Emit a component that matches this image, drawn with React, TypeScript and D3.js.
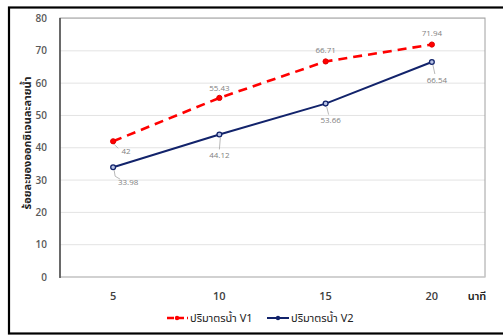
import React from "react";
import * as d3 from "d3";

const categories = ["5", "10", "15", "20"];
const seriesNames = ["ปริมาตรน้ำ V1", "ปริมาตรน้ำ V2"];
const v1 = [42, 55.43, 66.71, 71.94];
const v2 = [33.98, 44.12, 53.66, 66.54];
const yTicks = [0, 10, 20, 30, 40, 50, 60, 70, 80];
const labelsV1 = ["42", "55.43", "66.71", "71.94"];
const labelsV2 = ["33.98", "44.12", "53.66", "66.54"];

// label offsets (layout)
const offV1: [number, number][] = [[13, 10], [0, -10], [0, -11], [0, -11]];
const offV2: [number, number][] = [[15, 15], [0, 21], [5, 17], [5, 18]];
const leaderV1 = [true, false, false, false];
const leaderV2 = [true, true, true, true];

const W = 503, H = 335;
const L = 60, R = 485, T = 18, B = 277;

export default function App() {
  const x = d3.scaleBand<string>().domain(categories).range([L, R]);
  const y = d3.scaleLinear().domain([0, 80]).range([B, T + 0.5]);
  const cx = (c: string) => (x(c) as number) + x.bandwidth() / 2;
  const line = d3
    .line<number>()
    .x((_, i) => cx(categories[i]))
    .y((d) => y(d));
  const font = "'Open Sans', 'Noto Sans', sans-serif";
  const thai = "'Noto Sans Thai', 'Noto Sans', 'DejaVu Sans', sans-serif";

  const renderLabels = (vals: number[], labels: string[], offs: [number, number][], leaders: boolean[]) =>
    vals.map((v, i) => {
      const px = cx(categories[i]);
      const py = y(v);
      const [dx, dy] = offs[i];
      return (
        <g key={i}>
          {leaders[i] && (
            <polyline
              points={`${px + 1},${py + 3} ${px + (dx > 8 ? 2 : dx * 0.6)},${py + dy - 6} ${dx > 8 ? px + dx - 8 : px + dx * 0.6},${py + dy - (dx > 8 ? 3 : 6)}`}
              fill="none"
              stroke="#a6a6a6"
              strokeWidth={0.8}
            />
          )}
          <text x={px + dx} y={py + dy} dy="0.35em" textAnchor="middle" fontSize={8} fill="#7f7f7f" fontFamily={font}>
            {labels[i]}
          </text>
        </g>
      );
    });

  return (
    <svg width={W} height={H} style={{ position: "absolute", left: 0, top: 0 }}>
      <rect width={W} height={H} fill="#fff" />
      {/* outer frame */}
      <rect x={9} y={7.5} width={W} height={326} fill="none" stroke="#000" strokeWidth={2.2} />
      {/* gridlines */}
      {yTicks.map((t) => (
        <line key={t} x1={L} x2={R} y1={y(t)} y2={y(t)} stroke="#e3e3e3" strokeWidth={1} />
      ))}
      <rect x={L} y={T} width={R - L} height={B - T} fill="none" stroke="#a0a0a0" strokeWidth={1} />
      <line x1={L} x2={R} y1={B} y2={B} stroke="#d9d9d9" />
      <line x1={L} x2={L} y1={T} y2={B + 1} stroke="#333" strokeWidth={1.3} />
      {/* y tick labels */}
      {yTicks.map((t) => (
        <text key={t} x={47} y={y(t)} dy="0.35em" textAnchor="end" fontSize={10} fill="#595959" fontFamily={font} fontWeight={600}>
          {t}
        </text>
      ))}
      {/* x tick labels */}
      {categories.map((c) => (
        <text key={c} x={cx(c)} y={296} dy="0.35em" textAnchor="middle" fontSize={11} fill="#404040" fontFamily={font} fontWeight={600}>
          {c}
        </text>
      ))}
      <text x={477} y={296} dy="0.35em" textAnchor="middle" fontSize={11} fill="#222" fontFamily={thai} fontWeight={600}>
        นาที
      </text>
      {/* y title */}
      <text transform={`translate(27,143) rotate(-90)`} textAnchor="middle" dy="0.35em" fontSize={11} fill="#222" fontFamily={thai} fontWeight={700}>
        ร้อยละของออกซิเจนละลายน้ำ
      </text>
      {/* series */}
      <path d={line(v1) as string} fill="none" stroke="#ff0000" strokeWidth={2.6} strokeDasharray="9,6" />
      <path d={line(v2) as string} fill="none" stroke="#12236b" strokeWidth={2} />
      {v1.map((v, i) => (
        <circle key={i} cx={cx(categories[i])} cy={y(v)} r={2.6} fill="#ff0000" stroke="#e00000" strokeWidth={1} />
      ))}
      {v2.map((v, i) => (
        <circle key={i} cx={cx(categories[i])} cy={y(v)} r={2.4} fill="#b9c4e6" stroke="#12236b" strokeWidth={1.3} />
      ))}
      {renderLabels(v1, labelsV1, offV1, leaderV1)}
      {renderLabels(v2, labelsV2, offV2, leaderV2)}
      {/* legend */}
      <g>
        <line x1={167} x2={188} y1={318} y2={318} stroke="#ff0000" strokeWidth={2.4} strokeDasharray="7,3" />
        <circle cx={177} cy={318} r={2.2} fill="#ff0000" />
        <text x={190} y={318} dy="0.35em" fontSize={11} fill="#222" fontFamily={thai}>
          {seriesNames[0]}
        </text>
        <line x1={267} x2={289} y1={318} y2={318} stroke="#12236b" strokeWidth={2} />
        <circle cx={278} cy={318} r={2.2} fill="#12236b" />
        <text x={291} y={318} dy="0.35em" fontSize={11} fill="#222" fontFamily={thai}>
          {seriesNames[1]}
        </text>
      </g>
    </svg>
  );
}
